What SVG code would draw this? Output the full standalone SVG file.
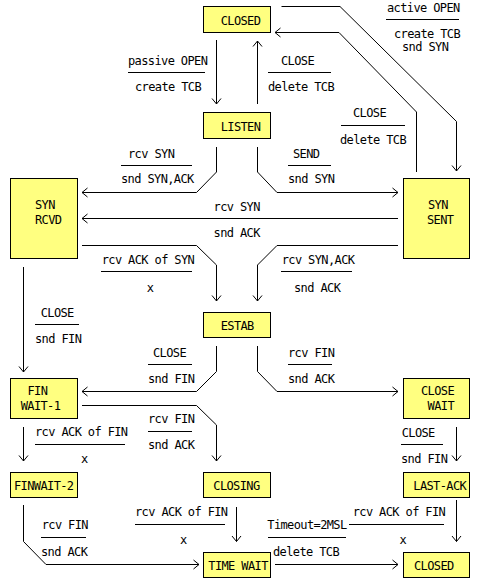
<svg xmlns="http://www.w3.org/2000/svg" width="480" height="587" viewBox="0 0 480 587">
<style>
.box{fill:#ffff80;stroke:#000;stroke-width:1}
.t{font-family:"DejaVu Sans Mono","Liberation Mono",monospace;font-size:12px;letter-spacing:-0.62px;fill:#000}
.c{text-anchor:middle}
.ln{fill:none;stroke:#000;stroke-width:1}
.ar{fill:none;stroke:#000;stroke-width:1;marker-end:url(#arr)}
</style>
<defs>
<marker id="arr" markerUnits="userSpaceOnUse" markerWidth="12" markerHeight="12" viewBox="-6 -6 12 12" refX="0" refY="0" orient="auto">
<path d="M-5.5,-4.5 L0,0 L-5.5,4.5" fill="none" stroke="#000" stroke-width="1"/>
</marker>
</defs>
<rect width="480" height="587" fill="#fff"/>
<g id="connectors">
<path class="ar" d="M216.5,40 V104"/>
<path class="ar" d="M257.5,104 V41"/>
<path class="ar" d="M281.5,6.5 H340 L456.5,121.5 V171"/>
<path class="ar" d="M416.5,172 V112 L339,32.5 H275"/>
<path class="ar" d="M216.5,147 V172 L196.5,192.5 H82"/>
<path class="ar" d="M257.5,147 V172 L277,192.5 H398"/>
<path class="ar" d="M398,218.5 H82"/>
<path class="ar" d="M82,245.5 H196.5 L216.5,265 V301"/>
<path class="ar" d="M398,245.5 H277 L257.5,265 V301"/>
<path class="ar" d="M23.5,267 V372"/>
<path class="ar" d="M216.5,346 V371.5 L196.5,391.5 H82"/>
<path class="ar" d="M257.5,346 V371.5 L277,391.5 H398"/>
<path class="ar" d="M82,405.5 H196.5 L216.5,425 V461"/>
<path class="ar" d="M23.5,427 V461"/>
<path class="ar" d="M456.5,427 V461"/>
<path class="ar" d="M23.5,505 V541.5 L46,564.5 H199"/>
<path class="ar" d="M236.5,507 V541.5"/>
<path class="ar" d="M456.5,500 V541.5"/>
<path class="ar" d="M275,564.5 H398"/>
<path class="ln" d="M128,72.5 H205 M268,72.5 H331 M386,19.5 H459 M341,125.5 H405 M121,165.5 H192 M288,165.5 H331 M101,271.5 H192 M281,271.5 H352 M35,324.5 H79 M148,364.5 H192 M288,364.5 H332 M148,431.5 H192 M35,444.5 H125 M401,444.5 H443 M41,537.5 H86 M135,524.5 H225 M349,524.5 H444 M268,537.5 H346"/>
</g>
<g id="labels">
<text class="t" x="128" y="65">passive OPEN</text>
<text class="t" x="135" y="91">create TCB</text>
<text class="t" x="281" y="65">CLOSE</text>
<text class="t" x="268" y="91">delete TCB</text>
<text class="t" x="387" y="12">active OPEN</text>
<text class="t" x="394" y="38">create TCB</text>
<text class="t" x="402" y="51">snd SYN</text>
<text class="t" x="353" y="117">CLOSE</text>
<text class="t" x="340" y="144">delete TCB</text>
<text class="t" x="128" y="158">rcv SYN</text>
<text class="t" x="121" y="183">snd SYN,ACK</text>
<text class="t" x="293" y="158">SEND</text>
<text class="t" x="288" y="183">snd SYN</text>
<text class="t" x="213.6" y="211">rcv SYN</text>
<text class="t" x="213.6" y="237">snd ACK</text>
<text class="t" x="101.7" y="264">rcv ACK of SYN</text>
<text class="t c" x="150" y="292">x</text>
<text class="t" x="281.7" y="264">rcv SYN,ACK</text>
<text class="t" x="294" y="292">snd ACK</text>
<text class="t" x="40.7" y="317">CLOSE</text>
<text class="t" x="35" y="343">snd FIN</text>
<text class="t" x="153" y="357">CLOSE</text>
<text class="t" x="148" y="383">snd FIN</text>
<text class="t" x="288" y="357">rcv FIN</text>
<text class="t" x="288" y="383">snd ACK</text>
<text class="t" x="148" y="423">rcv FIN</text>
<text class="t" x="148" y="449">snd ACK</text>
<text class="t" x="35" y="436">rcv ACK of FIN</text>
<text class="t c" x="84.3" y="463">x</text>
<text class="t" x="401.7" y="437">CLOSE</text>
<text class="t" x="401" y="463">snd FIN</text>
<text class="t" x="41.7" y="529">rcv FIN</text>
<text class="t" x="41" y="556">snd ACK</text>
<text class="t" x="135" y="516">rcv ACK of FIN</text>
<text class="t c" x="183.3" y="544">x</text>
<text class="t" x="352.7" y="516">rcv ACK of FIN</text>
<text class="t c" x="402.7" y="544">x</text>
<text class="t" x="267.3" y="529">Timeout=2MSL</text>
<text class="t" x="273" y="556">delete TCB</text>
</g>
<g id="closed-top"><rect class="box" x="203.5" y="6.5" width="67" height="26"/><text class="t" x="220.7" y="25">CLOSED</text></g>
<g id="listen"><rect class="box" x="203.5" y="112.5" width="67" height="26"/><text class="t" x="220.7" y="131">LISTEN</text></g>
<g id="syn-rcvd"><rect class="box" x="10.5" y="178.5" width="67" height="80"/><text class="t" x="35" y="209">SYN</text><text class="t" x="35" y="224">RCVD</text></g>
<g id="syn-sent"><rect class="box" x="403.5" y="178.5" width="66" height="80"/><text class="t" x="428" y="209">SYN</text><text class="t" x="427" y="224">SENT</text></g>
<g id="estab"><rect class="box" x="203.5" y="312.5" width="67" height="25"/><text class="t" x="220.7" y="330">ESTAB</text></g>
<g id="fin-wait-1"><rect class="box" x="10.5" y="378.5" width="67" height="40"/><text class="t" x="27.5" y="395">FIN</text><text class="t" x="20.7" y="410">WAIT-1</text></g>
<g id="close-wait"><rect class="box" x="403.5" y="378.5" width="66" height="40"/><text class="t" x="421" y="395">CLOSE</text><text class="t" x="427.6" y="410">WAIT</text></g>
<g id="finwait-2"><rect class="box" x="10.5" y="472.5" width="67" height="25"/><text class="t" x="14" y="490">FINWAIT-2</text></g>
<g id="closing"><rect class="box" x="203.5" y="472.5" width="67" height="25"/><text class="t" x="213.3" y="490">CLOSING</text></g>
<g id="last-ack"><rect class="box" x="403.5" y="472.5" width="66" height="25"/><text class="t" x="413.3" y="490">LAST-ACK</text></g>
<g id="time-wait"><rect class="box" x="203.5" y="552.5" width="67" height="25"/><text class="t" x="208.3" y="570">TIME WAIT</text></g>
<g id="closed-bottom"><rect class="box" x="403.5" y="552.5" width="66" height="25"/><text class="t" x="414" y="570">CLOSED</text></g>
</svg>
